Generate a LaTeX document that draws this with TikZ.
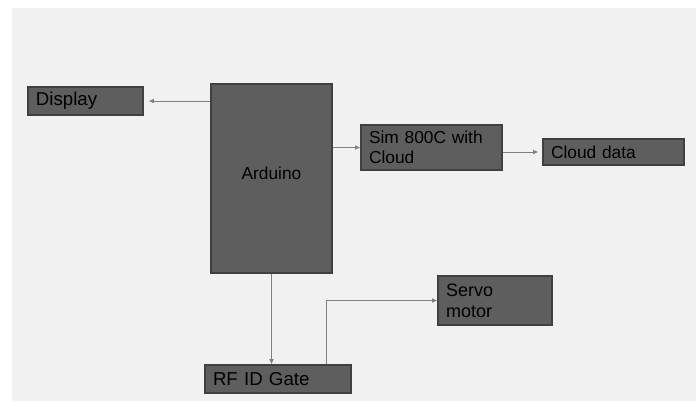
\documentclass[tikz,border=0pt]{standalone}
\usepackage{fontspec}
\setmainfont{Liberation Sans}
\usetikzlibrary{calc,arrows.meta}
\definecolor{bggray}{HTML}{F1F1F1}
\definecolor{boxfill}{HTML}{5E5E5E}
\definecolor{boxline}{HTML}{404040}
\definecolor{linegray}{HTML}{808080}
\tikzset{
  blk/.style={draw=boxline, line width=0.8pt, fill=boxfill, text=black, inner sep=0pt, minimum width=#1},
  blkleft/.style={blk=#1, align=left, text width=#1-12pt, inner xsep=6pt},
  conn/.style={draw=linegray, line width=0.7pt, -{Latex[length=4pt,width=3.5pt]}},
}
\begin{document}
\begin{tikzpicture}[x=0.75pt,y=-0.75pt, font=\fontsize{13}{15}\selectfont]
\useasboundingbox (0,0) rectangle (696,401);
\fill[white] (0,0) rectangle (696,401);
\fill[bggray] (12,8) rectangle (696,401);
\node[blkleft=86.25pt, minimum height=21pt, font=\fontsize{14}{16}\selectfont] (Display) at (85.5,101) {Display};
\node[blk=90.75pt, minimum height=141.75pt] (Arduino) at (271.5,178.5) {\raisebox{7.5pt}{Arduino}};
\node[blkleft=105.75pt, minimum height=33.75pt] (Sim) at (431.5,147.5) {Sim 800C with\\Cloud};
\node[blkleft=105.75pt, minimum height=19.5pt] (Cloud) at (613.5,152) {Cloud data};
\node[blkleft=85.5pt, minimum height=36.75pt, font=\fontsize{13.5}{15.5}\selectfont] (Servo) at (495,300.5) {Servo\\motor};
\node[blkleft=109.5pt, minimum height=21pt, font=\fontsize{14}{16}\selectfont] (RFID) at (278,379) {RF ID Gate};
\draw[conn, shorten >=3.75pt] (Arduino.west |- Display.east) -- (Display.east);
\draw[conn] (Arduino.east |- Sim.west) -- (Sim.west);
\draw[conn, shorten >=3pt] (Sim.east |- Cloud.west) -- (Cloud.west);
\draw[conn] (Arduino.south) -- (Arduino.south |- RFID.north);
\draw[conn] ($(RFID.north)+(48,0)$) |- (Servo.west);
\end{tikzpicture}
\end{document}
